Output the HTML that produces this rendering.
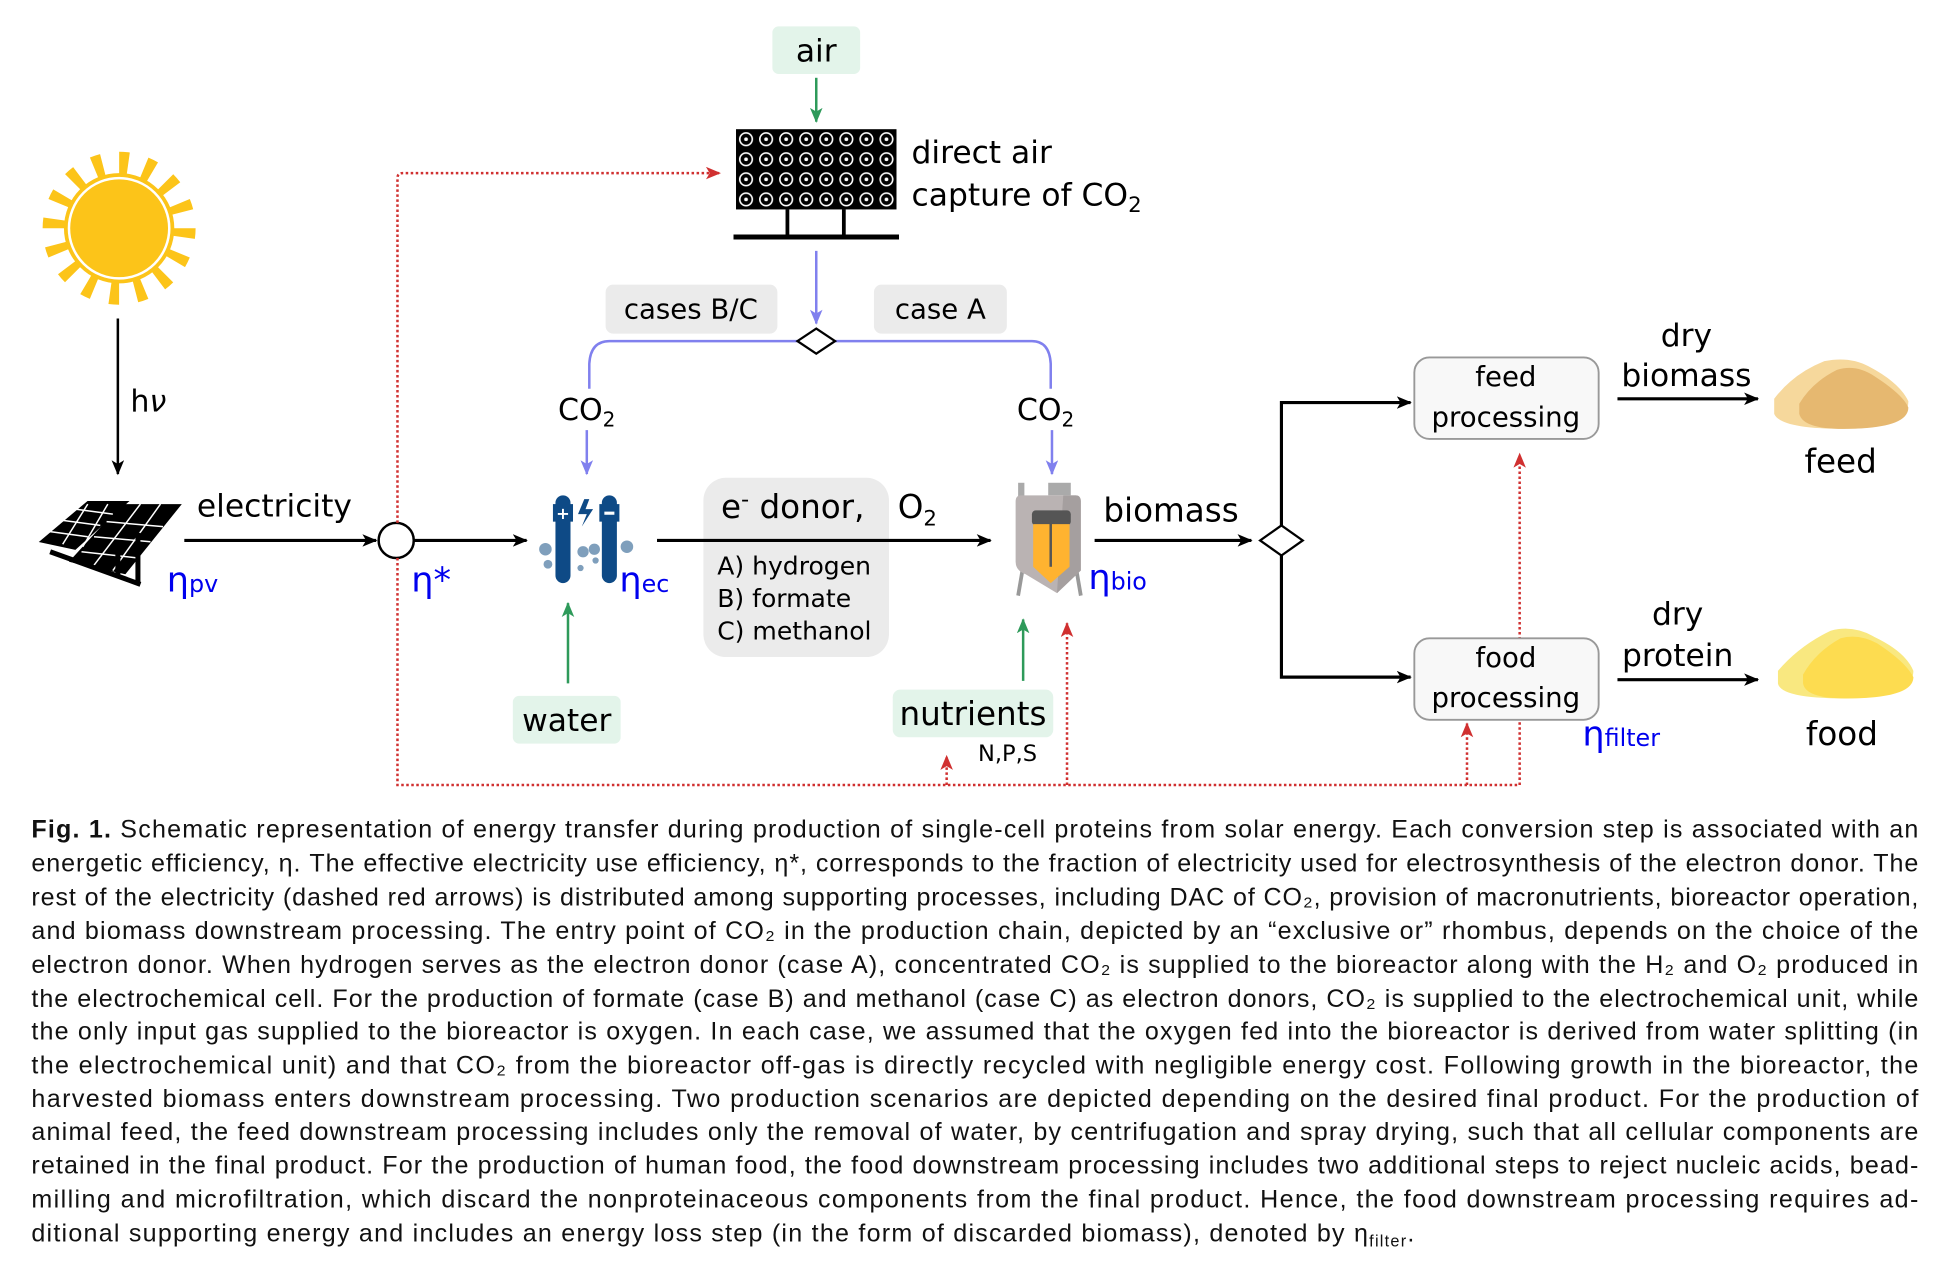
<!DOCTYPE html>
<html><head><meta charset="utf-8"><style>
html,body{margin:0;padding:0;background:#fff}
svg{display:block}
text{font-family:"DejaVu Sans","Liberation Sans",sans-serif}
.cap text{font-family:"Liberation Sans",sans-serif;font-size:20px;fill:#111}
</style></head><body>
<svg width="1956" height="1274" viewBox="0 0 1560 1016" xmlns="http://www.w3.org/2000/svg">
<defs>
<marker id="ak" markerWidth="12" markerHeight="10" refX="11" refY="5" orient="auto" markerUnits="userSpaceOnUse"><path d="M0,0 L12,5 L0,10 L3,5 z" fill="#000"/></marker>
<marker id="ar" markerWidth="12" markerHeight="10" refX="11" refY="5" orient="auto" markerUnits="userSpaceOnUse"><path d="M0,0 L12,5 L0,10 L3,5 z" fill="#d03030"/></marker>
<marker id="ab" markerWidth="12" markerHeight="10" refX="11" refY="5" orient="auto" markerUnits="userSpaceOnUse"><path d="M0,0 L12,5 L0,10 L3,5 z" fill="#8080ee"/></marker>
<marker id="ag" markerWidth="12" markerHeight="10" refX="11" refY="5" orient="auto" markerUnits="userSpaceOnUse"><path d="M0,0 L12,5 L0,10 L3,5 z" fill="#2e9a5a"/></marker>
<pattern id="dac" x="587" y="103" width="16" height="16" patternUnits="userSpaceOnUse">
<rect width="16" height="16" fill="#000"/><circle cx="8" cy="8" r="5" fill="none" stroke="#fff" stroke-width="1.3"/><circle cx="8" cy="8" r="1.5" fill="#fff"/>
</pattern>
</defs>

<!-- sun -->
<circle cx="95" cy="182" r="50" fill="none" stroke="#fcc419" stroke-width="22" stroke-dasharray="7 12.63"/>
<circle cx="95" cy="182" r="44" fill="#fcc419"/>
<circle cx="95" cy="182" r="40" fill="#fcc419" stroke="#fff" stroke-width="2"/>
<line x1="94" y1="254" x2="94" y2="378" stroke="#000" stroke-width="2" marker-end="url(#ak)"/>
<text x="104" y="328" font-size="24">h<tspan font-style="italic">ν</tspan></text>

<!-- solar panel -->
<g>
<polygon points="32,432 70,400 102,400 60,438" fill="#000" stroke="#000"/>
<polygon points="55,448 97,402 145,402 100,458" fill="#000"/>
<g stroke="#fff" stroke-width="1.2">
<line x1="40" y1="424" x2="70" y2="428"/><line x1="50" y1="415" x2="80" y2="419"/><line x1="60" y1="406" x2="90" y2="410"/>
<line x1="65" y1="440" x2="110" y2="445"/><line x1="75" y1="428" x2="120" y2="432"/><line x1="85" y1="416" x2="130" y2="420"/>
<line x1="70" y1="402" x2="50" y2="434"/><line x1="86" y1="402" x2="66" y2="436"/>
<line x1="112" y1="402" x2="74" y2="452"/><line x1="128" y1="402" x2="90" y2="455"/>
</g>
<line x1="40" y1="440" x2="112" y2="466" stroke="#000" stroke-width="4"/>
<line x1="94" y1="442" x2="94" y2="460" stroke="#000" stroke-width="4"/>
<line x1="110" y1="425" x2="110" y2="466" stroke="#000" stroke-width="4"/>
</g>
<text x="157" y="412" font-size="25">electricity</text>
<text x="133" y="472" font-size="28" fill="#0000ee">η<tspan font-size="19">pv</tspan></text>
<line x1="147" y1="431" x2="300" y2="431" stroke="#000" stroke-width="2.5" marker-end="url(#ak)"/>
<circle cx="316" cy="431" r="14" fill="#fff" stroke="#000" stroke-width="2"/>
<line x1="330" y1="431" x2="420" y2="431" stroke="#000" stroke-width="2.5" marker-end="url(#ak)"/>
<text x="328" y="472" font-size="28" fill="#0000ee">η*</text>

<!-- red dotted -->
<g stroke="#d03030" stroke-width="2" fill="none" stroke-dasharray="2 2">
<path d="M317,417 V142 Q317,138 321,138 H574" marker-end="url(#ar)"/>
<path d="M317,445 V626 H1212 V362" marker-end="url(#ar)"/>
<path d="M755,626 V603" marker-end="url(#ar)"/>
<path d="M851,626 V497" marker-end="url(#ar)"/>
<path d="M1170,626 V577" marker-end="url(#ar)"/>
</g>

<!-- air / DAC -->
<rect x="616" y="21" width="70" height="38" rx="5" fill="#e3f4ea"/>
<text x="651" y="49" font-size="25" text-anchor="middle">air</text>
<line x1="651" y1="62" x2="651" y2="97" stroke="#2e9a5a" stroke-width="2" marker-end="url(#ag)"/>
<rect x="587" y="103" width="128" height="64" fill="url(#dac)"/>
<line x1="628" y1="167" x2="628" y2="187" stroke="#000" stroke-width="3"/>
<line x1="673" y1="167" x2="673" y2="187" stroke="#000" stroke-width="3"/>
<line x1="585" y1="189" x2="717" y2="189" stroke="#000" stroke-width="4"/>
<text x="727" y="130" font-size="25">direct air</text>
<text x="727" y="164" font-size="25">capture of CO<tspan font-size="17" dy="5">2</tspan></text>
<line x1="651" y1="200" x2="651" y2="258" stroke="#8080ee" stroke-width="2" marker-end="url(#ab)"/>

<rect x="483" y="227" width="137" height="39" rx="6" fill="#ebebeb"/>
<text x="551" y="254" font-size="22" text-anchor="middle">cases B/C</text>
<rect x="697" y="227" width="106" height="39" rx="6" fill="#ebebeb"/>
<text x="750" y="254" font-size="22" text-anchor="middle">case A</text>
<path d="M640,272 H486 Q471,272 470,290 V310 M662,272 H823 Q837,272 838,290 V310" stroke="#8080ee" stroke-width="2" fill="none"/>
<polygon points="651,262 666,272 651,282 636,272" fill="#fff" stroke="#000" stroke-width="1.8"/>
<text x="445" y="335" font-size="24">CO<tspan font-size="16" dy="5">2</tspan></text>
<text x="811" y="335" font-size="24">CO<tspan font-size="16" dy="5">2</tspan></text>
<line x1="468" y1="343" x2="468" y2="378" stroke="#8080ee" stroke-width="2" marker-end="url(#ab)"/>
<line x1="839" y1="343" x2="839" y2="378" stroke="#8080ee" stroke-width="2" marker-end="url(#ab)"/>

<!-- electrochem -->
<g>
<rect x="443" y="395" width="12" height="70" rx="6" fill="#0e4a86"/>
<rect x="480" y="395" width="12" height="70" rx="6" fill="#0e4a86"/>
<rect x="441" y="402" width="16" height="14" fill="#0e4a86"/><rect x="478" y="402" width="16" height="14" fill="#0e4a86"/>
<text x="449" y="414" font-size="13" fill="#fff" text-anchor="middle" font-weight="bold">+</text>
<rect x="482" y="408" width="8" height="2.5" fill="#fff"/>
<polygon points="466,398 461,410 468,410 464,420 473,406 467,406 470,398" fill="#0e4a86"/>
<g fill="#7f9fbc"><circle cx="435" cy="438" r="5"/><circle cx="437" cy="450" r="3.5"/><circle cx="465" cy="440" r="4.5"/><circle cx="463" cy="453" r="2.5"/><circle cx="474" cy="438" r="4.5"/><circle cx="475" cy="447" r="2.5"/><circle cx="500" cy="436" r="5"/></g>
</g>
<text x="494" y="472" font-size="28" fill="#0000ee">η<tspan font-size="19">ec</tspan></text>
<line x1="453" y1="545" x2="453" y2="481" stroke="#2e9a5a" stroke-width="2" marker-end="url(#ag)"/>
<rect x="409" y="555" width="86" height="38" rx="5" fill="#e3f4ea"/>
<text x="452" y="583" font-size="25" text-anchor="middle">water</text>

<!-- e donor -->
<rect x="561" y="381" width="148" height="143" rx="18" fill="#ebebeb"/>
<text x="575" y="413" font-size="26">e<tspan font-size="18" dy="-9">-</tspan><tspan dy="9"> donor,</tspan></text>
<text x="716" y="413" font-size="26">O<tspan font-size="17" dy="6">2</tspan></text>
<line x1="524" y1="431" x2="790" y2="431" stroke="#000" stroke-width="2.5" marker-end="url(#ak)"/>
<text x="572" y="458" font-size="20">A) hydrogen</text>
<text x="572" y="484" font-size="20">B) formate</text>
<text x="572" y="510" font-size="20">C) methanol</text>

<!-- bioreactor -->
<g>
<rect x="812" y="385" width="5" height="12" fill="#aaa"/><rect x="836" y="385" width="18" height="10" fill="#aaa"/>
<line x1="818" y1="440" x2="812" y2="475" stroke="#999" stroke-width="3"/>
<line x1="856" y1="440" x2="862" y2="475" stroke="#999" stroke-width="3"/>
<path d="M814,395 H858 Q862,395 862,400 V455 L843,473 L818,458 Q810,455 810,448 V400 Q810,395 814,395z" fill="#bab3b3"/>
<path d="M848,395 H858 Q862,395 862,400 V455 L843,473 Z" fill="#a59f9f"/>
<rect x="823" y="407" width="31" height="12" rx="3" fill="#555"/>
<path d="M824,418 H853 V452 L838,465 L824,452z" fill="#ffb330"/>
<line x1="838" y1="408" x2="838" y2="452" stroke="#555" stroke-width="2"/>
</g>
<text x="868" y="470" font-size="28" fill="#0000ee">η<tspan font-size="19">bio</tspan></text>
<line x1="816" y1="543" x2="816" y2="494" stroke="#2e9a5a" stroke-width="2" marker-end="url(#ag)"/>
<rect x="712" y="550" width="128" height="38" rx="6" fill="#e3f4ea"/>
<text x="776" y="578" font-size="26" text-anchor="middle">nutrients</text>
<text x="780" y="607" font-size="18">N,P,S</text>

<text x="880" y="416" font-size="26">biomass</text>
<line x1="873" y1="431" x2="998" y2="431" stroke="#000" stroke-width="2.5" marker-end="url(#ak)"/>
<polygon points="1022,419 1039,431 1022,443 1005,431" fill="#fff" stroke="#000" stroke-width="1.8"/>
<path d="M1022,419 V321 H1125" stroke="#000" stroke-width="2.5" fill="none" marker-end="url(#ak)"/>
<path d="M1022,443 V540 H1125" stroke="#000" stroke-width="2.5" fill="none" marker-end="url(#ak)"/>

<rect x="1128" y="285" width="147" height="65" rx="12" fill="#f8f8f8" stroke="#999" stroke-width="1.5"/>
<text x="1201" y="308" font-size="22" text-anchor="middle">feed</text>
<text x="1201" y="340" font-size="22" text-anchor="middle">processing</text>
<rect x="1128" y="509" width="147" height="65" rx="12" fill="#f8f8f8" stroke="#999" stroke-width="1.5"/>
<text x="1201" y="532" font-size="22" text-anchor="middle">food</text>
<text x="1201" y="564" font-size="22" text-anchor="middle">processing</text>
<text x="1262" y="595" font-size="28" fill="#0000ee">η<tspan font-size="19">filter</tspan></text>

<line x1="1290" y1="318" x2="1402" y2="318" stroke="#000" stroke-width="2.5" marker-end="url(#ak)"/>
<text x="1345" y="276" font-size="25" text-anchor="middle">dry</text>
<text x="1345" y="308" font-size="25" text-anchor="middle">biomass</text>
<line x1="1290" y1="542" x2="1402" y2="542" stroke="#000" stroke-width="2.5" marker-end="url(#ak)"/>
<text x="1338" y="498" font-size="25" text-anchor="middle">dry</text>
<text x="1338" y="531" font-size="25" text-anchor="middle">protein</text>

<path d="M1415,318 Q1430,298 1455,288 Q1475,284 1490,292 Q1515,305 1522,320 Q1522,342 1470,342 Q1420,342 1415,330z" fill="#f6d89c"/>
<path d="M1435,322 Q1445,305 1465,295 Q1480,290 1495,300 Q1518,315 1522,325 Q1522,342 1470,342 Q1438,342 1435,330z" fill="#e6b870"/>
<text x="1468" y="377" font-size="26" text-anchor="middle">feed</text>
<path d="M1418,535 Q1435,515 1460,503 Q1478,498 1495,508 Q1520,520 1526,535 Q1526,557 1472,557 Q1420,557 1418,545z" fill="#f9e880"/>
<path d="M1438,538 Q1448,520 1468,509 Q1482,505 1497,513 Q1520,528 1526,540 Q1526,557 1472,557 Q1440,557 1438,545z" fill="#fddc50"/>
<text x="1469" y="594" font-size="26" text-anchor="middle">food</text>

<!-- caption -->
<g class="cap">
<text x="25" y="668" textLength="1505" lengthAdjust="spacing"><tspan font-weight="bold">Fig. 1.</tspan>   Schematic representation of energy transfer during production of single-cell proteins from solar energy. Each conversion step is associated with an</text>
<text x="25" y="695" textLength="1505" lengthAdjust="spacing">energetic efficiency, η. The effective electricity use efficiency, η*, corresponds to the fraction of electricity used for electrosynthesis of the electron donor. The</text>
<text x="25" y="722" textLength="1505" lengthAdjust="spacing">rest of the electricity (dashed red arrows) is distributed among supporting processes, including DAC of CO₂, provision of macronutrients, bioreactor operation,</text>
<text x="25" y="749" textLength="1505" lengthAdjust="spacing">and biomass downstream processing. The entry point of CO₂ in the production chain, depicted by an “exclusive or” rhombus, depends on the choice of the</text>
<text x="25" y="776" textLength="1505" lengthAdjust="spacing">electron donor. When hydrogen serves as the electron donor (case A), concentrated CO₂ is supplied to the bioreactor along with the H₂ and O₂ produced in</text>
<text x="25" y="803" textLength="1505" lengthAdjust="spacing">the electrochemical cell. For the production of formate (case B) and methanol (case C) as electron donors, CO₂ is supplied to the electrochemical unit, while</text>
<text x="25" y="829" textLength="1505" lengthAdjust="spacing">the only input gas supplied to the bioreactor is oxygen. In each case, we assumed that the oxygen fed into the bioreactor is derived from water splitting (in</text>
<text x="25" y="856" textLength="1505" lengthAdjust="spacing">the electrochemical unit) and that CO₂ from the bioreactor off-gas is directly recycled with negligible energy cost. Following growth in the bioreactor, the</text>
<text x="25" y="883" textLength="1505" lengthAdjust="spacing">harvested biomass enters downstream processing. Two production scenarios are depicted depending on the desired final product. For the production of</text>
<text x="25" y="909" textLength="1505" lengthAdjust="spacing">animal feed, the feed downstream processing includes only the removal of water, by centrifugation and spray drying, such that all cellular components are</text>
<text x="25" y="936" textLength="1505" lengthAdjust="spacing">retained in the final product. For the production of human food, the food downstream processing includes two additional steps to reject nucleic acids, bead-</text>
<text x="25" y="963" textLength="1505" lengthAdjust="spacing">milling and microfiltration, which discard the nonproteinaceous components from the final product. Hence, the food downstream processing requires ad-</text>
<text x="25" y="990" textLength="1103" lengthAdjust="spacing">ditional supporting energy and includes an energy loss step (in the form of discarded biomass), denoted by η<tspan font-size="13" dy="4">filter</tspan><tspan dy="-4">.</tspan></text>
</g>
</svg>
</body></html>
